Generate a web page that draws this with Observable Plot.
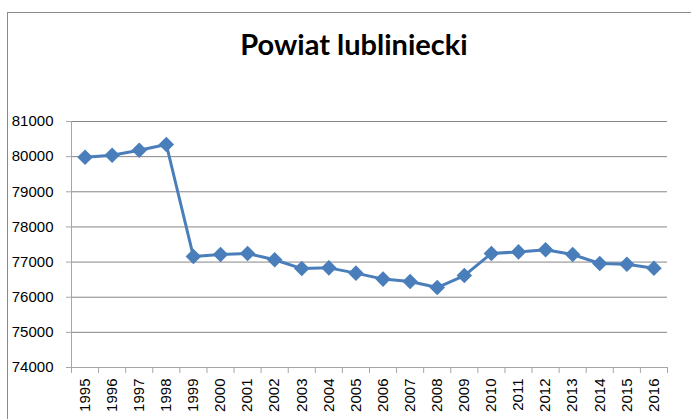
<!DOCTYPE html>
<html><head><meta charset="utf-8">
<script src="https://cdn.jsdelivr.net/npm/d3@7"></script>
<script src="https://cdn.jsdelivr.net/npm/@observablehq/plot@0.6"></script>
<style>
html,body{margin:0;padding:0;width:691px;height:419px;overflow:hidden;background:#fff;}
#frame{position:absolute;left:7px;top:12px;width:720px;height:440px;border:1.5px solid #8a8a8a;box-sizing:border-box;}
#title{position:absolute;left:0;width:708px;top:29px;text-align:center;font-family:Lato,"Noto Sans",sans-serif;font-weight:bold;font-size:29px;line-height:1;color:#000;}
#chart{position:absolute;left:0;top:0;}
</style></head><body>
<div id="frame"></div>
<div id="title">Powiat lubliniecki</div>
<div id="chart"></div>
<script>
const years = [1995,1996,1997,1998,1999,2000,2001,2002,2003,2004,2005,2006,2007,2008,2009,2010,2011,2012,2013,2014,2015,2016];
const population = [79980,80040,80180,80345,77160,77215,77245,77065,76815,76835,76685,76515,76445,76275,76615,77245,77290,77350,77215,76960,76940,76825];
const yTicks = [74000,75000,76000,77000,78000,79000,80000,81000];

const data = years.map((year, i) => ({year, value: population[i]}));
const bounds = [...years.map(y => y - 0.5), years[years.length - 1] + 0.5];

const plot = Plot.plot({
  width: 691, height: 419,
  marginTop: 121, marginBottom: 52, marginLeft: 71, marginRight: 24,
  x: {type: "linear", domain: [years[0] - 0.5, years[years.length - 1] + 0.5]},
  y: {domain: [yTicks[0], yTicks[yTicks.length - 1]]},
  style: {fontFamily: "Liberation Sans, Arial, sans-serif", fontSize: "15px", color: "#000", background: "transparent", overflow: "visible"},
  marks: [
    Plot.gridY(yTicks.slice(1), {stroke: "#868686", strokeOpacity: 1}),
    Plot.ruleY([yTicks[0]], {stroke: "#a6a6a6"}),
    Plot.ruleX([bounds[0]], {stroke: "#a6a6a6"}),
    Plot.axisY(yTicks, {tickSize: 5, tickPadding: 13, stroke: "#a6a6a6", fill: "#000", label: null, tickFormat: d => String(d)}),
    Plot.axisX(bounds, {tickSize: 6, tickFormat: () => "", stroke: "#a6a6a6", label: null}),
    Plot.axisX(years, {tickSize: 0, tickRotate: -90, tickPadding: 11, tickFormat: d => String(d), label: null, fill: "#000"}),
    Plot.lineY(data, {x: "year", y: "value", stroke: "#4a7ebb", strokeWidth: 3}),
    Plot.dot(data, {x: "year", y: "value", symbol: "diamond2", r: 7, fill: "#4a7ebb", stroke: "none"})
  ]
});
document.getElementById("chart").appendChild(plot);
</script>
</body></html>
